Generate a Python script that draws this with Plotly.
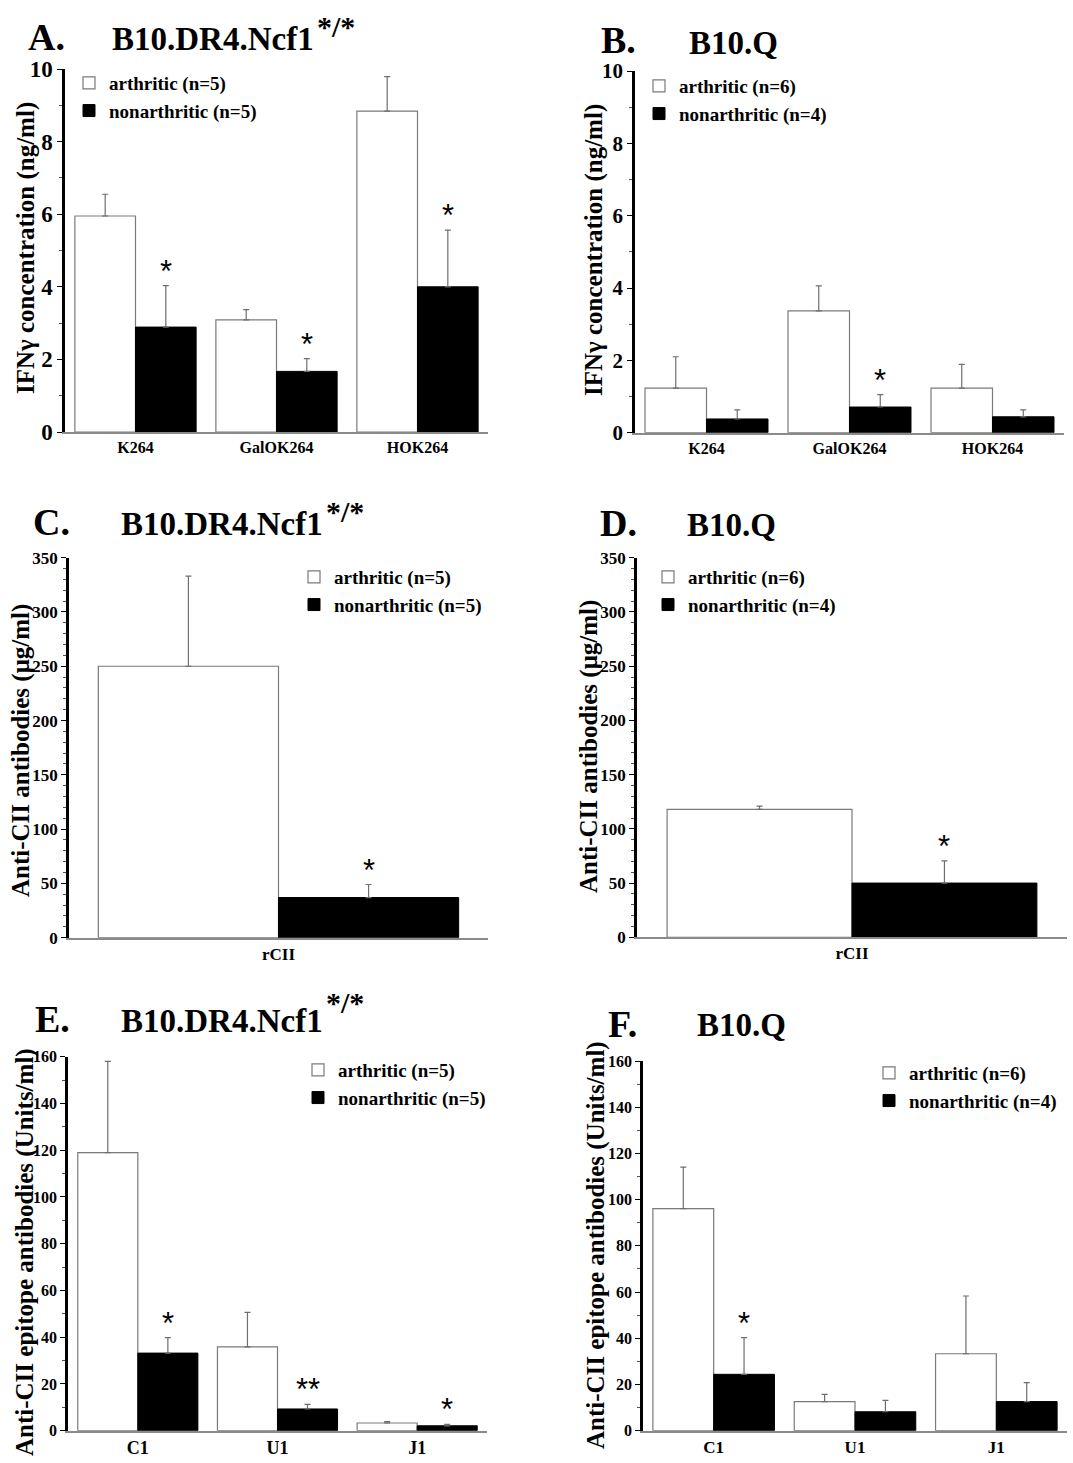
import plotly.graph_objects as go

# ---------------- data ----------------
cats_AB = ["K264", "GalOK264", "HOK264"]
A_arth = [5.95, 3.09, 8.84]
A_arth_err = [0.60, 0.28, 0.95]
A_non = [2.89, 1.67, 4.00]
A_non_err = [1.14, 0.35, 1.56]
A_sig = ["*", "*", "*"]

B_arth = [1.23, 3.37, 1.23]
B_arth_err = [0.87, 0.69, 0.66]
B_non = [0.38, 0.71, 0.44]
B_non_err = [0.25, 0.34, 0.19]
B_sig = ["", "*", ""]

cats_CD = ["rCII"]
C_arth = [250]
C_arth_err = [83]
C_non = [37]
C_non_err = [12]
C_sig = ["*"]

D_arth = [118]
D_arth_err = [3]
D_non = [50]
D_non_err = [20.5]
D_sig = ["*"]

cats_EF = ["C1", "U1", "J1"]
E_arth = [119.0, 35.9, 3.3]
E_arth_err = [39.0, 14.7, 0.6]
E_non = [33.2, 9.3, 2.1]
E_non_err = [6.6, 2.0, 0.6]
E_sig = ["*", "**", "*"]

F_arth = [96.1, 12.6, 33.3]
F_arth_err = [18.0, 3.1, 25.0]
F_non = [24.4, 8.2, 12.6]
F_non_err = [15.9, 4.9, 8.2]
F_sig = ["*", "", ""]

ytitle_IFN = "IFN\u03b3 concentration (ng/ml)"
ytitle_CII = "Anti-CII antibodies (\u03bcg/ml)"
ytitle_epi = "Anti-CII epitope antibodies (Units/ml)"
strain_DR4 = "B10.DR4.Ncf1"
strain_sup = "*/*"
strain_Q = "B10.Q"

# ---------------- layout helpers ----------------
W, H = 1073, 1463
SERIF = "Liberation Serif"
SANS = "Liberation Sans"
BARGAP = 0.14


def px(x):
    return x / W


def py(y):
    return 1 - y / H


panels = [
    dict(letter="A.", strain=strain_DR4, sup=True, cats=cats_AB,
         arth=A_arth, arth_err=A_arth_err, non=A_non, non_err=A_non_err, sig=A_sig,
         n=("5", "5"), ymax=10, dtick=2, minor=1, ytitle=ytitle_IFN,
         xdom=(65, 488), ydom=(69, 432), tick_size=23, cat_size=16,
         letter_pos=(26, 60), strain_pos=(110, 58.5), sup_pos=(315, 45),
         ytitle_pos=(26, 248), ytitle_size=25, leg=(69, 64)),
    dict(letter="B.", strain=strain_Q, sup=False, cats=cats_AB,
         arth=B_arth, arth_err=B_arth_err, non=B_non, non_err=B_non_err, sig=B_sig,
         n=("6", "4"), ymax=10, dtick=2, minor=1, ytitle=ytitle_IFN,
         xdom=(635, 1064), ydom=(71, 432.7), tick_size=21, cat_size=16,
         letter_pos=(599, 63.5), strain_pos=(687, 62.5), sup_pos=None,
         ytitle_pos=(594, 250), ytitle_size=25, leg=(639, 67)),
    dict(letter="C.", strain=strain_DR4, sup=True, cats=cats_CD,
         arth=C_arth, arth_err=C_arth_err, non=C_non, non_err=C_non_err, sig=C_sig,
         n=("5", "5"), ymax=350, dtick=50, minor=10, ytitle=ytitle_CII,
         xdom=(69, 488), ydom=(557.7, 937.7), tick_size=17, cat_size=17,
         letter_pos=(31, 545), strain_pos=(119, 544), sup_pos=(324, 530),
         ytitle_pos=(21, 751), ytitle_size=25, leg=(294, 558)),
    dict(letter="D.", strain=strain_Q, sup=False, cats=cats_CD,
         arth=D_arth, arth_err=D_arth_err, non=D_non, non_err=D_non_err, sig=D_sig,
         n=("6", "4"), ymax=350, dtick=50, minor=10, ytitle=ytitle_CII,
         xdom=(637, 1067), ydom=(557.7, 937.3), tick_size=17, cat_size=17,
         letter_pos=(598, 546), strain_pos=(685, 545), sup_pos=None,
         ytitle_pos=(589, 747), ytitle_size=25, leg=(648, 558)),
    dict(letter="E.", strain=strain_DR4, sup=True, cats=cats_EF,
         arth=E_arth, arth_err=E_arth_err, non=E_non, non_err=E_non_err, sig=E_sig,
         n=("5", "5"), ymax=160, dtick=20, minor=10, ytitle=ytitle_epi,
         xdom=(68, 487), ydom=(1056.7, 1430.7), tick_size=16, cat_size=18,
         letter_pos=(33, 1042), strain_pos=(119, 1041), sup_pos=(324, 1021),
         ytitle_pos=(25, 1252), ytitle_size=25, leg=(298, 1051)),
    dict(letter="F.", strain=strain_Q, sup=False, cats=cats_EF,
         arth=F_arth, arth_err=F_arth_err, non=F_non, non_err=F_non_err, sig=F_sig,
         n=("6", "4"), ymax=160, dtick=20, minor=10, ytitle=ytitle_epi,
         xdom=(643, 1067), ydom=(1061, 1430.7), tick_size=16, cat_size=17,
         letter_pos=(606, 1047), strain_pos=(695, 1045), sup_pos=None,
         ytitle_pos=(596, 1245), ytitle_size=25, leg=(869, 1054)),
]

fig = go.Figure()
layout = dict(
    template="none",
    width=W, height=H,
    margin=dict(l=0, r=0, t=0, b=0, pad=0, autoexpand=False),
    paper_bgcolor="white", plot_bgcolor="white",
    barmode="group", bargap=BARGAP, bargroupgap=0,
    showlegend=True,
    annotations=[],
)

for i, p in enumerate(panels):
    k = "" if i == 0 else str(i + 1)
    xa, ya = "x" + k, "y" + k
    leg = "legend" + k
    n_cat = len(p["cats"])

    fig.add_trace(go.Bar(
        x=p["cats"], y=p["arth"], name=f"arthritic (n={p['n'][0]})",
        xaxis=xa, yaxis=ya, legend=leg,
        marker=dict(color="white", line=dict(color="#7a7a7a", width=1.2)),
        error_y=dict(type="data", array=p["arth_err"], arrayminus=[0] * n_cat,
                     symmetric=False, color="#6e6e6e", thickness=1.2, width=3),
    ))
    fig.add_trace(go.Bar(
        x=p["cats"], y=p["non"], name=f"nonarthritic (n={p['n'][1]})",
        xaxis=xa, yaxis=ya, legend=leg,
        marker=dict(color="black", line=dict(color="black", width=1)),
        error_y=dict(type="data", array=p["non_err"], arrayminus=[0] * n_cat,
                     symmetric=False, color="#6e6e6e", thickness=1.2, width=3),
    ))

    layout["xaxis" + k] = dict(
        domain=[px(p["xdom"][0]), px(p["xdom"][1])],
        anchor=ya, type="category", range=[-0.5, n_cat - 0.5],
        showline=True, linecolor="#8a8a8a", linewidth=1.5,
        ticks="", showgrid=False, zeroline=False, automargin=False,
        tickfont=dict(family=SERIF, size=p["cat_size"], color="black", weight="bold"),
        fixedrange=True,
    )
    layout["yaxis" + k] = dict(
        domain=[py(p["ydom"][1]), py(p["ydom"][0])],
        anchor=xa, range=[0, p["ymax"]], dtick=p["dtick"], tick0=0,
        showline=True, linecolor="black", linewidth=2.5,
        ticks="outside", ticklen=5, tickwidth=1.2, tickcolor="black",
        minor=dict(dtick=p["minor"], ticks="outside", ticklen=3,
                   tickwidth=1, tickcolor="#555555"),
        showgrid=False, zeroline=False, automargin=False,
        tickfont=dict(family=SERIF, size=p["tick_size"], color="black", weight="bold"),
        fixedrange=True,
    )
    layout[leg] = dict(
        x=px(p["leg"][0]), y=py(p["leg"][1]), xanchor="left", yanchor="top",
        bgcolor="rgba(0,0,0,0)", borderwidth=0, traceorder="normal",
        font=dict(family=SERIF, size=19, color="black", weight="bold"),
        tracegroupgap=0, itemclick=False, itemdoubleclick=False,
    )

    # significance asterisks above the nonarthritic bars
    off = (1 - BARGAP) / 4
    for j, s in enumerate(p["sig"]):
        if s:
            layout["annotations"].append(dict(
                x=j + off, y=p["non"][j] + p["non_err"][j], xref=xa, yref=ya,
                text=s, showarrow=False, yanchor="bottom", xanchor="center", yshift=-5,
                font=dict(family=SANS, size=31, color="black"),
            ))

    # panel letter and strain
    layout["annotations"].append(dict(
        x=px(p["letter_pos"][0]), y=py(p["letter_pos"][1]), xref="paper", yref="paper",
        xanchor="left", yanchor="bottom", showarrow=False, text=p["letter"],
        font=dict(family=SERIF, size=38, color="black", weight="bold"),
    ))
    layout["annotations"].append(dict(
        x=px(p["strain_pos"][0]), y=py(p["strain_pos"][1]), xref="paper", yref="paper",
        xanchor="left", yanchor="bottom", showarrow=False, text=p["strain"],
        font=dict(family=SERIF, size=33, color="black", weight="bold"),
    ))
    if p["sup"]:
        layout["annotations"].append(dict(
            x=px(p["sup_pos"][0]), y=py(p["sup_pos"][1]), xref="paper", yref="paper",
            xanchor="left", yanchor="bottom", showarrow=False, text=strain_sup,
            font=dict(family=SERIF, size=30, color="black", weight="bold"),
        ))
    # y-axis title
    layout["annotations"].append(dict(
        x=px(p["ytitle_pos"][0]), y=py(p["ytitle_pos"][1]), xref="paper", yref="paper",
        xanchor="center", yanchor="middle", textangle=-90, showarrow=False,
        text=p["ytitle"],
        font=dict(family=SERIF, size=p["ytitle_size"], color="black", weight="bold"),
    ))

fig.update_layout(**layout)
fig.write_html(
    "out.html",
    config={"displayModeBar": False, "staticPlot": False},
    post_script="document.body.style.margin='0px';document.body.style.overflow='hidden';",
)
